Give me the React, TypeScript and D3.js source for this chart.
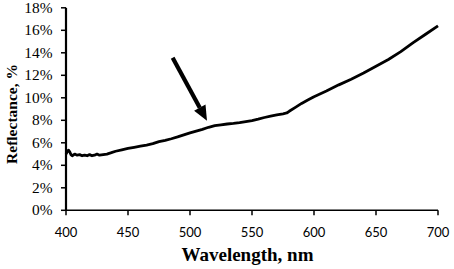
import React from "react";
import * as d3 from "d3";

const wavelengths = [400,401,402,403,404,405,407,409,411,413,415,417,419,421,423,425,427,430,433,436,440,445,450,455,460,465,470,475,480,485,490,495,500,505,510,515,520,525,530,535,540,545,550,555,560,565,570,575,578,580,585,590,595,600,610,620,630,640,650,660,670,680,690,700];
const reflectance = [5.0,5.2,5.35,5.2,4.95,4.85,5.0,4.9,4.95,4.85,4.9,4.85,4.95,4.85,4.9,5.0,4.9,4.95,5.0,5.1,5.25,5.38,5.5,5.6,5.7,5.8,5.92,6.1,6.22,6.36,6.52,6.7,6.88,7.04,7.2,7.38,7.52,7.6,7.67,7.72,7.79,7.88,7.98,8.1,8.25,8.38,8.48,8.58,8.65,8.8,9.15,9.5,9.8,10.1,10.6,11.15,11.65,12.2,12.8,13.4,14.1,14.9,15.65,16.4];
const xTicks = [400,450,500,550,600,650,700];
const yTicks = [0,2,4,6,8,10,12,14,16,18];
const arrowFrom = [486, 13.55];
const arrowTo = [513.7, 7.95];

const W = 454, H = 269;
const x = d3.scaleLinear().domain([400, 700]).range([66, 438]);
const y = d3.scaleLinear().domain([0, 18]).range([210.3, 7.8]);

export default function App() {
  const line = d3.line<number>().x((d, i) => x(wavelengths[i])).y((d) => y(d)).curve(d3.curveLinear);
  const ax0 = x(arrowFrom[0]), ay0 = y(arrowFrom[1]);
  const ax1 = x(arrowTo[0]), ay1 = y(arrowTo[1]);
  const ang = Math.atan2(ay1 - ay0, ax1 - ax0);
  const headLen = 15, headW = 6.5;
  const bx = ax1 - headLen * Math.cos(ang), by = ay1 - headLen * Math.sin(ang);
  const px = -Math.sin(ang), py = Math.cos(ang);
  const head = `M${ax1},${ay1} L${bx + headW * px},${by + headW * py} L${bx - headW * px},${by - headW * py} Z`;
  const serif = "'Liberation Serif', 'Times New Roman', serif";
  return (
    <svg width={W} height={H} style={{ position: "absolute", left: 0, top: 0, background: "#fff" }}>
      {/* y axis */}
      <line x1={x(400)} x2={x(400)} y1={y(18)} y2={y(0)} stroke="#000" strokeWidth={2.2} />
      {yTicks.map((t) => (
        <g key={t}>
          <line x1={x(400) - 5} x2={x(400)} y1={y(t)} y2={y(t)} stroke="#000" strokeWidth={1.5} />
          <text transform={`translate(52.5,${y(t)}) scale(1.1,1)`} dy="0.35em" textAnchor="end" fontFamily={serif} fontSize={14}>
            {t}%
          </text>
        </g>
      ))}
      {/* x axis */}
      <line x1={x(400)} x2={x(700)} y1={y(0)} y2={y(0)} stroke="#000" strokeWidth={1.5} />
      {xTicks.map((t) => (
        <g key={t}>
          <line x1={x(t)} x2={x(t)} y1={y(0)} y2={y(0) + 5} stroke="#000" strokeWidth={1.5} />
          <text x={x(t)} y={236.5} textAnchor="middle" fontFamily="Lato, 'Open Sans', sans-serif" fontSize={13}>
            {t}
          </text>
        </g>
      ))}
      <text x={247.5} y={261} textAnchor="middle" fontFamily={serif} fontWeight="bold" fontSize={19}>
        Wavelength, nm
      </text>
      <text transform={`translate(16.5,114) rotate(-90)`} textAnchor="middle" fontFamily={serif} fontWeight="bold" fontSize={15.5}>
        Reflectance, %
      </text>
      {/* data line */}
      <path d={line(reflectance) || ""} fill="none" stroke="#000" strokeWidth={2.8} strokeLinejoin="round" />
      {/* arrow */}
      <line x1={ax0} y1={ay0} x2={bx} y2={by} stroke="#000" strokeWidth={4.2} />
      <path d={head} fill="#000" />
    </svg>
  );
}
